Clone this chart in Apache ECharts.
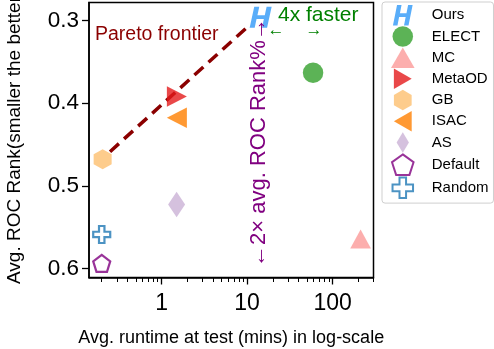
<!DOCTYPE html>
<html>
<head>
<meta charset="utf-8">
<script src="https://cdn.jsdelivr.net/npm/echarts@6/dist/echarts.min.js"></script>
<style>
html,body{margin:0;padding:0;background:#fff;}
#c{width:494px;height:349px;}
</style>
</head>
<body>
<div id="c"></div>
<script>
// ---- data ----
const methods = ['Ours','ELECT','MC','MetaOD','GB','ISAC','AS','Default','Random'];
const runtimeMins = [14.4, 59, 212, 1.51, 0.205, 1.51, 1.5, 0.2, 0.2];
const rocRank = [0.296, 0.363, 0.5645, 0.392, 0.468, 0.4177, 0.5227, 0.594, 0.559];
const paretoX = [0.25, 10.1];
const paretoY = [0.4587, 0.3076];
const xTickValues = [1, 10, 100];
const xMinorTickValues = [0.2,0.3,0.4,0.5,0.6,0.7,0.8,0.9,2,3,4,5,6,7,8,9,20,30,40,50,60,70,80,90,200,300];
const yTickValues = [0.3, 0.4, 0.5, 0.6];

// ---- styles ----
const FONT = '"Liberation Sans", Arial, sans-serif';
const symbols = {
  Ours: 'path://M0,100 L22,100 L30,58 L62,58 L54,100 L76,100 L96,0 L74,0 L66,40 L34,40 L42,0 L20,0 Z',
  ELECT: 'circle',
  MC: 'path://M50,0 L100,87 L0,87 Z',
  MetaOD: 'path://M0,0 L87,50 L0,100 Z',
  GB: 'path://M43.3,0 L86.6,25 L86.6,75 L43.3,100 L0,75 L0,25 Z',
  ISAC: 'path://M87,0 L0,50 L87,100 Z',
  AS: 'path://M30,0 L60,50 L30,100 L0,50 Z',
  Default: 'path://M50,0 L97.6,34.5 L79.4,90.5 L20.6,90.5 L2.4,34.5 Z',
  Random: 'path://M34,0 L66,0 L66,34 L100,34 L100,66 L66,66 L66,100 L34,100 L34,66 L0,66 L0,34 L34,34 Z'
};
const sizes = {
  Ours: [22, 21], ELECT: 20.5, MC: [20.7, 19], MetaOD: [20, 20.5], GB: [18, 20],
  ISAC: [20, 20.5], AS: [17, 25.5], Default: [17, 17], Random: [17, 17]
};
const itemStyles = {
  Ours: {color: '#2f98f7'},
  ELECT: {color: '#33a02c'},
  MC: {color: '#fb9a99'},
  MetaOD: {color: '#e31a1c'},
  GB: {color: '#fdbf6f'},
  ISAC: {color: '#ff7f00'},
  AS: {color: '#cab2d6'},
  Default: {color: '#ffffff', borderColor: '#800080', borderWidth: 2.2},
  Random: {color: '#ffffff', borderColor: '#1f78b4', borderWidth: 2.2}
};

const scatterSeries = methods.map((m, i) => ({
  name: m,
  type: 'scatter',
  xAxisIndex: 0,
  yAxisIndex: 0,
  symbol: symbols[m],
  symbolSize: sizes[m],
  itemStyle: itemStyles[m],
  z: 5,
  data: [[runtimeMins[i], rocRank[i]]]
}));

const chart = echarts.init(document.getElementById('c'), null, {renderer: 'canvas'});
const axisText = {color: '#000', fontFamily: FONT};

chart.setOption({
  animation: false,
  backgroundColor: '#fff',
  textStyle: {fontFamily: FONT},
  grid: {left: 89, right: 120.5, top: 2.5, bottom: 71.5, show: true, borderColor: '#000', borderWidth: 1.5, backgroundColor: '#fff', containLabel: false, outerBoundsMode: 'none'},
  xAxis: [{
    type: 'log', logBase: 10, min: 0.142, max: 300,
    name: 'Avg. runtime at test (mins) in log-scale',
    nameLocation: 'middle', nameGap: 52,
    nameTextStyle: Object.assign({fontSize: 18}, axisText),
    axisLine: {lineStyle: {color: '#000', width: 1.5}},
    axisTick: {show: true, inside: false, length: 7, customValues: xTickValues, lineStyle: {color: '#000', width: 1.3}},
    axisLabel: Object.assign({fontSize: 23, margin: 15, customValues: xTickValues, formatter: v => String(Math.round(v))}, axisText),
    splitLine: {show: false},
    minorTick: {show: false}
  }, {
    type: 'log', logBase: 10, min: 0.142, max: 300,
    gridIndex: 0, position: 'bottom',
    axisLine: {show: false},
    axisTick: {show: true, inside: false, length: 4.5, customValues: xMinorTickValues, lineStyle: {color: '#000', width: 1}},
    axisLabel: {show: false},
    splitLine: {show: false}
  }],
  yAxis: [{
    type: 'value', inverse: true, min: 0.278, max: 0.6111,
    name: 'Avg. ROC Rank(smaller the better',
    nameLocation: 'middle', nameGap: 65,
    nameTextStyle: Object.assign({fontSize: 19}, axisText),
    axisLine: {show: true, lineStyle: {color: '#000', width: 1.5}},
    axisTick: {show: true, inside: false, length: 7, customValues: yTickValues, lineStyle: {color: '#000', width: 1.3}},
    axisLabel: Object.assign({fontSize: 22.5, margin: 10, customValues: yTickValues, formatter: v => v.toFixed(1)}, axisText),
    splitLine: {show: false}
  }],
  legend: {
    orient: 'vertical', left: 382, top: 2,
    padding: [3, 5, 4, 9],
    itemWidth: 30, itemHeight: 20.5, itemGap: 0.7,
    textStyle: {fontSize: 15, color: '#000', fontFamily: FONT, padding: [0, 0, 0, 9]},
    borderColor: '#cfcfcf', borderWidth: 1, borderRadius: 3,
    backgroundColor: '#fff',
    data: methods
  },
  series: [{
    name: 'Pareto frontier',
    type: 'line',
    xAxisIndex: 0, yAxisIndex: 0,
    symbol: 'none',
    z: 3,
    lineStyle: {color: '#8b0000', width: 3.5, type: [12, 7], cap: 'butt'},
    data: paretoX.map((x, i) => [x, paretoY[i]])
  }].concat(scatterSeries),
  graphic: [
    {type: 'text', x: 95, y: 35, z: 10, style: {text: 'Pareto frontier', fontSize: 19.5, fontFamily: FONT, fill: '#8b0000', verticalAlign: 'middle', align: 'left'}},
    {type: 'text', x: 278, y: 15, z: 10, style: {text: '4x faster', fontSize: 21, fontFamily: FONT, fill: '#008000', verticalAlign: 'middle', align: 'left'}},
    {type: 'text', x: 276, y: 30, z: 10, style: {text: '←', fontSize: 17, fontFamily: FONT, fill: '#008000', verticalAlign: 'middle', align: 'center'}},
    {type: 'text', x: 314, y: 30, z: 10, style: {text: '→', fontSize: 17, fontFamily: FONT, fill: '#008000', verticalAlign: 'middle', align: 'center'}},
    {type: 'text', x: 259, y: 142.5, rotation: Math.PI / 2, z: 10, style: {text: '←2× avg. ROC Rank%→', fontSize: 22, fontFamily: FONT, fill: '#800080', verticalAlign: 'middle', align: 'center'}}
  ]
});
</script>
</body>
</html>
